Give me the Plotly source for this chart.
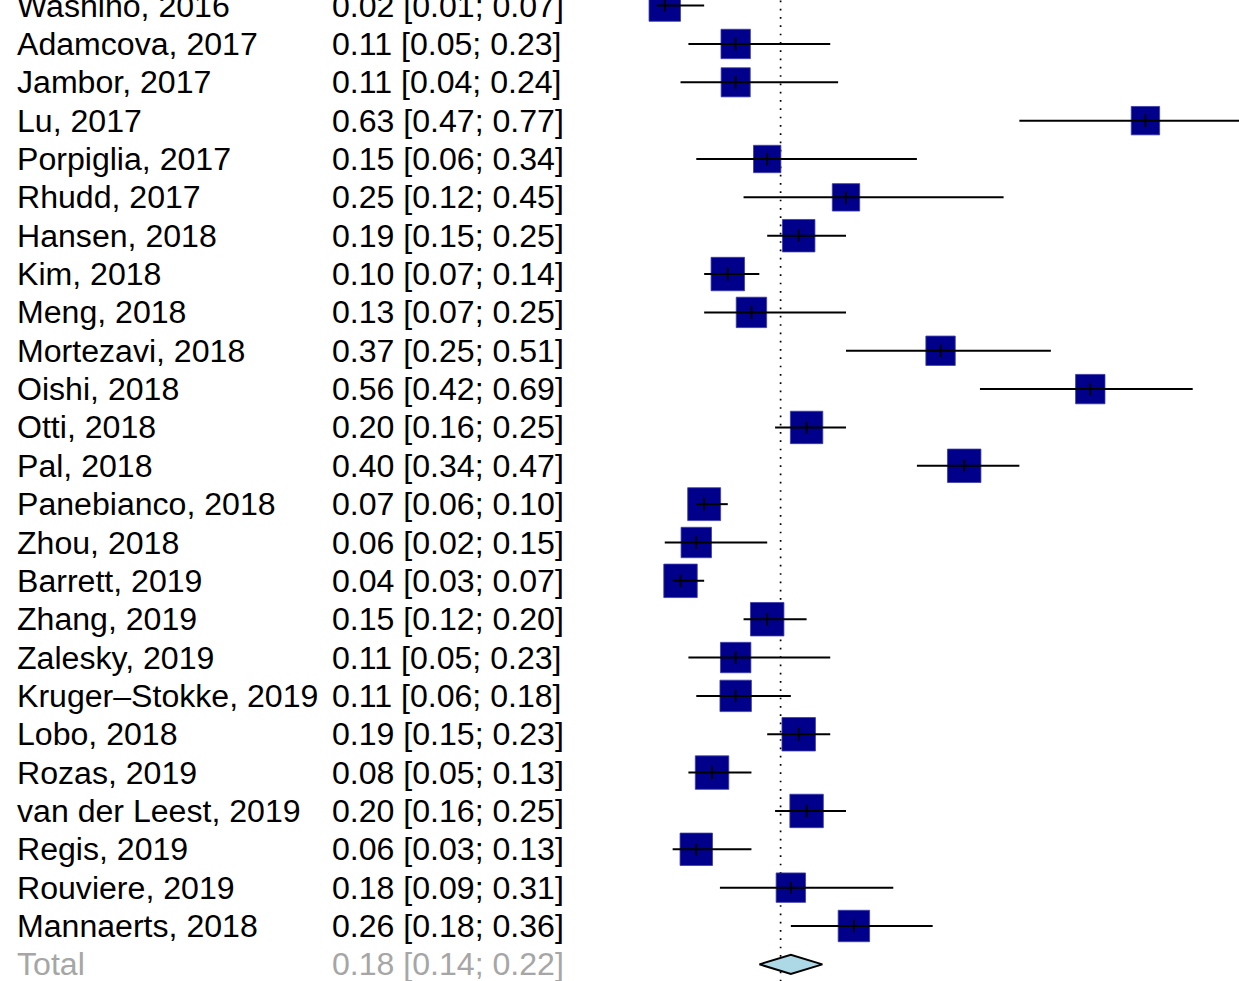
import plotly.graph_objects as go

studies = ["Washino, 2016", "Adamcova, 2017", "Jambor, 2017", "Lu, 2017", "Porpiglia, 2017",
           "Rhudd, 2017", "Hansen, 2018", "Kim, 2018", "Meng, 2018", "Mortezavi, 2018",
           "Oishi, 2018", "Otti, 2018", "Pal, 2018", "Panebianco, 2018", "Zhou, 2018",
           "Barrett, 2019", "Zhang, 2019", "Zalesky, 2019", "Kruger\u2013Stokke, 2019", "Lobo, 2018",
           "Rozas, 2019", "van der Leest, 2019", "Regis, 2019", "Rouviere, 2019", "Mannaerts, 2018"]
est = [0.02, 0.11, 0.11, 0.63, 0.15, 0.25, 0.19, 0.10, 0.13, 0.37, 0.56, 0.20, 0.40, 0.07, 0.06,
       0.04, 0.15, 0.11, 0.11, 0.19, 0.08, 0.20, 0.06, 0.18, 0.26]
lo = [0.01, 0.05, 0.04, 0.47, 0.06, 0.12, 0.15, 0.07, 0.07, 0.25, 0.42, 0.16, 0.34, 0.06, 0.02,
      0.03, 0.12, 0.05, 0.06, 0.15, 0.05, 0.16, 0.03, 0.09, 0.18]
hi = [0.07, 0.23, 0.24, 0.77, 0.34, 0.45, 0.25, 0.14, 0.25, 0.51, 0.69, 0.25, 0.47, 0.10, 0.15,
      0.07, 0.20, 0.23, 0.18, 0.23, 0.13, 0.25, 0.13, 0.31, 0.36]
weights = [4.03, 3.77, 3.73, 3.64, 3.51, 3.51, 4.16, 4.29, 3.90, 3.77, 3.77, 4.16, 4.29, 4.22, 3.90,
           4.29, 4.29, 3.90, 4.03, 4.29, 4.29, 4.29, 4.16, 3.77, 4.03]
total_label = "Total"
total_est, total_lo, total_hi = 0.18, 0.14, 0.22
ref_value = 0.167

n = len(studies)
rows = list(range(n))
total_row = n

FONT = "Liberation Sans, Arial, sans-serif"
FS = 32.1

fig = go.Figure()

# reference dotted line
fig.add_trace(go.Scatter(x=[ref_value, ref_value], y=[-1, total_row + 1], mode="lines",
                         line=dict(color="black", width=1.7, dash="1.7px,6.6px"),
                         hoverinfo="skip", showlegend=False))

# squares
fig.add_trace(go.Scatter(x=est, y=rows, mode="markers",
                         marker=dict(symbol="square", size=[w * 7.8 for w in weights], opacity=1,
                                     color="#00008B", line=dict(color="#3c3ca8", width=0.8)),
                         hoverinfo="skip", showlegend=False))

# CI lines
cx, cy = [], []
for i in rows:
    cx += [lo[i], hi[i], None]
    cy += [i, i, None]
fig.add_trace(go.Scatter(x=cx, y=cy, mode="lines", line=dict(color="black", width=2),
                         hoverinfo="skip", showlegend=False))

# estimate ticks
fig.add_trace(go.Scatter(x=est, y=rows, mode="markers",
                         marker=dict(symbol="line-ns", size=9, opacity=1,
                                     line=dict(color="black", width=1.8)),
                         hoverinfo="skip", showlegend=False))

# diamond
h = 0.25
fig.add_trace(go.Scatter(x=[total_lo, total_est, total_hi, total_est, total_lo],
                         y=[total_row, total_row - h, total_row, total_row + h, total_row],
                         mode="lines", fill="toself", fillcolor="#ADD8E6",
                         line=dict(color="black", width=2),
                         hoverinfo="skip", showlegend=False))

ann = []
for i in rows:
    ann.append(dict(x=15 / 1239, y=i, xref="paper", yref="y", text=studies[i], showarrow=False,
                    xanchor="left", yanchor="middle", font=dict(family=FONT, size=FS, color="black")))
    ann.append(dict(x=330 / 1239, y=i, xref="paper", yref="y",
                    text=f"{est[i]:.2f} [{lo[i]:.2f}; {hi[i]:.2f}]", showarrow=False,
                    xanchor="left", yanchor="middle", font=dict(family=FONT, size=FS, color="black")))
ann.append(dict(x=15 / 1239, y=total_row, xref="paper", yref="y", text=total_label, showarrow=False,
                xanchor="left", yanchor="middle", font=dict(family=FONT, size=FS, color="#A6A6A6")))
ann.append(dict(x=330 / 1239, y=total_row, xref="paper", yref="y",
                text=f"{total_est:.2f} [{total_lo:.2f}; {total_hi:.2f}]", showarrow=False,
                xanchor="left", yanchor="middle", font=dict(family=FONT, size=FS, color="#A6A6A6")))

px0, pxu = 649.0, 788.0
row0, rowh = 5.6, 38.35
fig.update_layout(
    width=1239, height=981, margin=dict(l=0, r=0, t=0, b=0),
    plot_bgcolor="white", paper_bgcolor="white",
    xaxis=dict(range=[-px0 / pxu, (1239 - px0) / pxu], visible=False, fixedrange=True),
    yaxis=dict(range=[(981 - row0) / rowh, -row0 / rowh], visible=False, fixedrange=True),
    annotations=ann, showlegend=False,
)

fig.write_html("out.html", config={"displayModeBar": False},
               post_script="document.body.style.margin='0';document.body.style.overflow='hidden';")
